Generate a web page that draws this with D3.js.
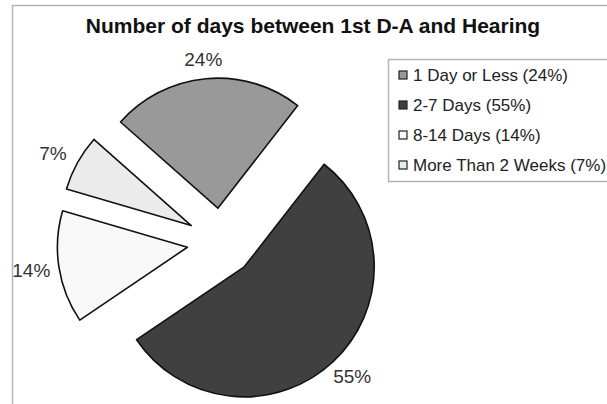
<!DOCTYPE html>
<html>
<head>
<meta charset="utf-8">
<script src="https://cdn.jsdelivr.net/npm/d3@7"></script>
<style>
  body { margin: 0; background: #fff; }
  svg { display: block; font-family: "Liberation Sans", Arial, sans-serif; }
</style>
</head>
<body>
<svg id="chart" width="607" height="404"></svg>
<script>
const title = 'Number of days between 1st D-A and Hearing'
const categories = ['1 Day or Less', '2-7 Days', '8-14 Days', 'More Than 2 Weeks']
const values = [24, 55, 14, 7]
const colours = ['#999999', '#404040', '#f8f8f8', '#ebebeb']

const svg = d3.select('#chart')
const width = 607
const height = 404

// chart area border (cut off at right and bottom)
svg.append('rect')
    .attr('x', 12.5)
    .attr('y', 5.5)
    .attr('width', width)
    .attr('height', height)
    .attr('fill', '#fff')
    .attr('stroke', '#b4b4b4')
    .attr('stroke-width', 1.5)

svg.append('text')
    .attr('x', 313)
    .attr('y', 33)
    .attr('text-anchor', 'middle')
    .style('font-size', '21px')
    .style('font-weight', 'bold')
    .attr('fill', '#111')
    .text(title)

let data = categories.map((c, i) => ({ name: c, value: values[i], colour: colours[i] }))

let radius = 130
let explode = 34
let centre = { x: 221, y: 242 }
let startAngle = -48.5 * Math.PI / 180

let pie = d3.pie()
    .sort(null)
    .value(d => d.value)
    .startAngle(startAngle)
    .endAngle(startAngle + 2 * Math.PI)

let arc = d3.arc()
    .innerRadius(0)
    .outerRadius(radius)

let arcs = pie(data)

function offset(d, rx, ry) {
  let a = (d.startAngle + d.endAngle) / 2
  return [Math.sin(a) * rx, -Math.cos(a) * ry]
}

let g = svg.append('g')
    .attr('transform', 'translate(' + centre.x + ',' + centre.y + ')')

let slices = g.selectAll('.slice')
    .data(arcs)
  .enter().append('g')
    .attr('class', 'slice')
    .attr('transform', d => 'translate(' + offset(d, explode, explode).join(',') + ')')

slices.append('path')
    .attr('d', arc)
    .attr('fill', d => d.data.colour)
    .attr('stroke', '#111')
    .attr('stroke-width', 1.6)
    .attr('stroke-linejoin', 'round')

slices.append('text')
    .attr('transform', d => 'translate(' + offset(d, 158, 150).join(',') + ')')
    .attr('text-anchor', 'middle')
    .attr('dy', '0.36em')
    .style('font-size', '19px')
    .attr('fill', '#333')
    .text(d => d.data.value + '%')

// legend
let legend = svg.append('g')
    .attr('transform', 'translate(388,59)')

legend.append('rect')
    .attr('x', 0.5)
    .attr('y', 0.5)
    .attr('width', 240)
    .attr('height', 122)
    .attr('fill', '#fff')
    .attr('stroke', '#b4b4b4')
    .attr('stroke-width', 1.5)

let y = d3.scaleBand()
    .domain(categories)
    .range([0, 120])

let items = legend.selectAll('.item')
    .data(data)
  .enter().append('g')
    .attr('class', 'item')
    .attr('transform', d => 'translate(0,' + (y(d.name) + y.bandwidth() / 2 + 1) + ')')

items.append('rect')
    .attr('x', 11)
    .attr('y', -4)
    .attr('width', 8)
    .attr('height', 8)
    .attr('fill', d => d.colour)
    .attr('stroke', '#222')
    .attr('stroke-width', 1.2)

items.append('text')
    .attr('x', 25)
    .attr('dy', '0.36em')
    .style('font-size', '17px')
    .attr('fill', '#222')
    .text(d => d.name + ' (' + d.value + '%)')
</script>
</body>
</html>
